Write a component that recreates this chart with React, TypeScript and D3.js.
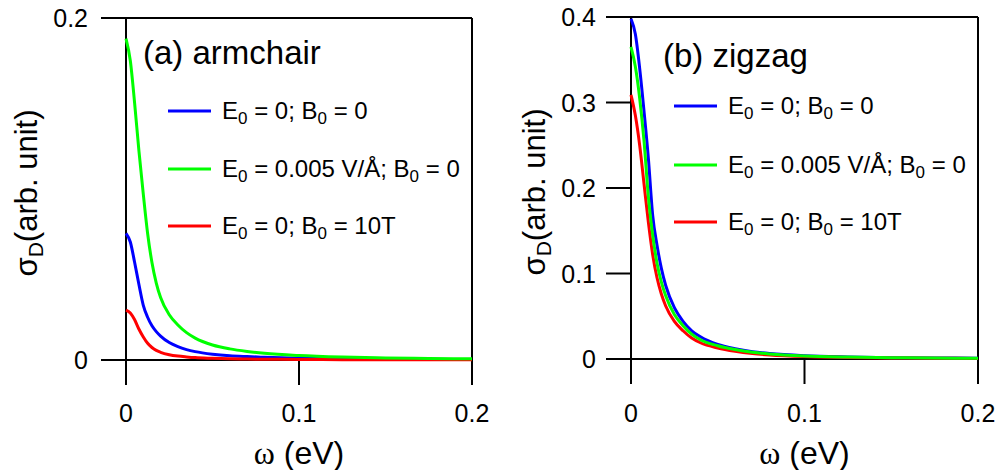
import React from "react";
import * as d3 from "d3";

// ---- data ----
const omega = [0, 0.0025, 0.005, 0.0075, 0.01, 0.0125, 0.015, 0.0175, 0.02, 0.025, 0.03, 0.035, 0.04, 0.05, 0.06, 0.07, 0.08, 0.1, 0.125, 0.15, 0.175, 0.2];

const armBlue = [0.0741, 0.069, 0.057, 0.044, 0.032, 0.025, 0.02, 0.0166, 0.014, 0.0102, 0.0078, 0.0061, 0.0049, 0.0034, 0.0025, 0.002, 0.0016, 0.001, 0.0007, 0.0005, 0.0004, 0.0003];
const armGreen = [0.188, 0.175, 0.15, 0.122, 0.097, 0.074, 0.057, 0.045, 0.0365, 0.0265, 0.0205, 0.016, 0.0128, 0.0088, 0.0065, 0.005, 0.0039, 0.0026, 0.0017, 0.0012, 0.0009, 0.0007];
const armRed = [0.0292, 0.0275, 0.0235, 0.018, 0.0135, 0.0098, 0.0073, 0.0056, 0.0045, 0.0031, 0.0023, 0.0018, 0.0014, 0.001, 0.0007, 0.00055, 0.00045, 0.0003, 0.0002, 0.00015, 0.0001, 0.0001];

const zigBlue = [0.398, 0.38, 0.34, 0.29, 0.235, 0.168, 0.133, 0.106, 0.086, 0.06, 0.044, 0.033, 0.026, 0.017, 0.012, 0.0085, 0.0063, 0.0038, 0.0024, 0.0016, 0.0012, 0.0009];
const zigGreen = [0.365, 0.342, 0.305, 0.255, 0.19, 0.145, 0.112, 0.09, 0.074, 0.052, 0.039, 0.029, 0.0225, 0.0155, 0.011, 0.0078, 0.0058, 0.0035, 0.0022, 0.0015, 0.0011, 0.0008];
const zigRed = [0.309, 0.285, 0.25, 0.205, 0.16, 0.122, 0.095, 0.076, 0.062, 0.044, 0.033, 0.0245, 0.019, 0.0128, 0.009, 0.0064, 0.0047, 0.0028, 0.0018, 0.0012, 0.0009, 0.0007];

const legendLabels = ["E_0 = 0; B_0 = 0", "E_0 = 0.005 V/Å; B_0 = 0", "E_0 = 0; B_0 = 10T"];
const seriesColors = ["#0000ff", "#00ff00", "#ff0000"];
const drawOrder = [0, 2, 1];

const xTicks = [0, 0.1, 0.2];
const xTickLabels = ["0", "0.1", "0.2"];
const armYTicks = [0, 0.2];
const armYTickLabels = ["0", "0.2"];
const zigYTicks = [0, 0.1, 0.2, 0.3, 0.4];
const zigYTickLabels = ["0", "0.1", "0.2", "0.3", "0.4"];

const FONT = "'Liberation Sans', Arial, sans-serif";

type PanelProps = {
  title: string;
  series: number[][];
  yMax: number;
  yTicks: number[];
  yTickLabels: string[];
  x0: number;
  x1: number;
  yTop: number;
  yBottom: number;
  titlePos: [number, number];
  legendX: number;
  legendY: number[];
  yLabelX: number;
  tickLabelRight: number;
};

function Label({ text, x, y }: { text: string; x: number; y: number }) {
  const parts = text.split("_0");
  const nodes: React.ReactNode[] = [];
  parts.forEach((p, i) => {
    if (i > 0) {
      nodes.push(
        <tspan key={"s" + i} fontSize={17} dy={5}>0</tspan>
      );
      nodes.push(
        <tspan key={"p" + i} dy={-5}>{p}</tspan>
      );
    } else {
      nodes.push(<tspan key={"p" + i}>{p}</tspan>);
    }
  });
  return (
    <text x={x} y={y} fontSize={24} fontFamily={FONT} fill="#000">
      {nodes}
    </text>
  );
}

function Panel(p: PanelProps) {
  const x = d3.scaleLinear().domain([0, 0.2]).range([p.x0, p.x1]);
  const y = d3.scaleLinear().domain([0, p.yMax]).range([p.yBottom, p.yTop]);
  const line = d3
    .line<number>()
    .x((_, i) => x(omega[i]))
    .y((d) => y(d))
    .curve(d3.curveMonotoneX);
  const tickOut = 25;
  const sw = 2;
  return (
    <g>
      <line x1={p.x0 - tickOut} x2={p.x1} y1={y(p.yMax)} y2={y(p.yMax)} stroke="#000" strokeWidth={sw} />
      <line x1={x(0.2)} x2={x(0.2)} y1={p.yTop} y2={p.yBottom + tickOut} stroke="#000" strokeWidth={sw} />
      <line x1={p.x0 - tickOut} x2={p.x1} y1={y(0)} y2={y(0)} stroke="#000" strokeWidth={sw} />
      <line x1={x(0)} x2={x(0)} y1={p.yTop} y2={p.yBottom + tickOut} stroke="#000" strokeWidth={sw} />
      {xTicks.map((t) => (
        <line key={"xt" + t} x1={x(t)} x2={x(t)} y1={y(0)} y2={y(0) + tickOut} stroke="#000" strokeWidth={sw} />
      ))}
      {p.yTicks.map((t) => (
        <line key={"yt" + t} x1={p.x0 - tickOut} x2={p.x0} y1={y(t)} y2={y(t)} stroke="#000" strokeWidth={sw} />
      ))}
      {xTicks.map((t, i) => (
        <text key={"xl" + t} x={x(t)} y={422} textAnchor="middle" fontSize={25} fontFamily={FONT}>
          {xTickLabels[i]}
        </text>
      ))}
      {p.yTicks.map((t, i) => (
        <text key={"yl" + t} x={p.tickLabelRight} y={y(t)} dy="0.36em" textAnchor="end" fontSize={25} fontFamily={FONT}>
          {p.yTickLabels[i]}
        </text>
      ))}
      {drawOrder.map((k) => (
        <path key={"c" + k} d={line(p.series[k]) || ""} fill="none" stroke={seriesColors[k]} strokeWidth={3} strokeLinejoin="round" />
      ))}
      <text x={p.titlePos[0]} y={p.titlePos[1]} fontSize={33} fontFamily={FONT}>
        {p.title}
      </text>
      {legendLabels.map((lab, i) => (
        <g key={"lg" + i}>
          <line x1={p.legendX} x2={p.legendX + 43} y1={p.legendY[i]} y2={p.legendY[i]} stroke={seriesColors[i]} strokeWidth={3} />
          <Label text={lab} x={p.legendX + 54} y={p.legendY[i] + 8} />
        </g>
      ))}
      <text x={x(0.1)} y={464} textAnchor="middle" fontSize={32} fontFamily={FONT}>
        <tspan fontFamily="'Liberation Serif', 'DejaVu Serif', serif">ω</tspan>
        <tspan> (eV)</tspan>
      </text>
      <text
        transform={`translate(${p.yLabelX},${(p.yTop + p.yBottom) / 2 + 4}) rotate(-90)`}
        textAnchor="middle"
        fontSize={31}
        fontFamily={FONT}
      >
        <tspan>σ</tspan>
        <tspan fontSize={21} dy={6}>D</tspan>
        <tspan dy={-6}>(arb. unit)</tspan>
      </text>
    </g>
  );
}

export default function App() {
  return (
    <svg width={999} height={470} style={{ position: "absolute", left: 0, top: 0, background: "#fff" }}>
      <rect width={999} height={470} fill="#fff" />
      <Panel
        title="(a) armchair"
        series={[armBlue, armGreen, armRed]}
        yMax={0.2}
        yTicks={armYTicks}
        yTickLabels={armYTickLabels}
        x0={126}
        x1={472}
        yTop={18}
        yBottom={360}
        titlePos={[143, 64]}
        legendX={168}
        legendY={[111, 169, 226]}
        yLabelX={37}
        tickLabelRight={88}
      />
      <Panel
        title="(b) zigzag"
        series={[zigBlue, zigGreen, zigRed]}
        yMax={0.4}
        yTicks={zigYTicks}
        yTickLabels={zigYTickLabels}
        x0={631}
        x1={978}
        yTop={17}
        yBottom={359}
        titlePos={[663, 67]}
        legendX={674}
        legendY={[106, 165, 222]}
        yLabelX={545}
        tickLabelRight={596}
      />
    </svg>
  );
}
